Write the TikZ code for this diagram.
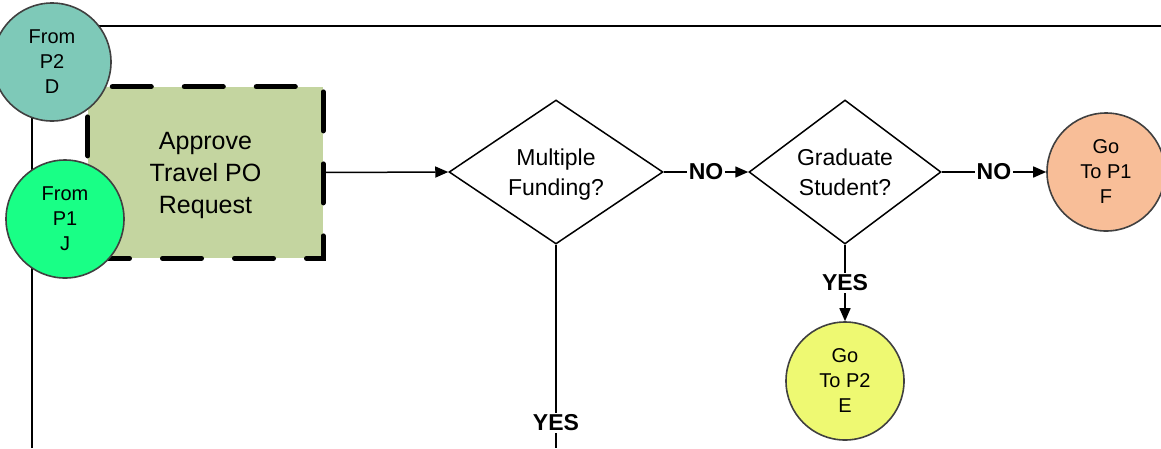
\documentclass[tikz,border=0pt]{standalone}
\usepackage{fontspec}
\setmainfont{Liberation Sans}
\usetikzlibrary{shapes.geometric,arrows.meta}
\definecolor{fromD}{HTML}{7EC9B8}
\definecolor{fromJ}{HTML}{19FF86}
\definecolor{approvefill}{HTML}{C4D5A0}
\definecolor{gotoF}{HTML}{F8BE98}
\definecolor{gotoE}{HTML}{EEF972}
\begin{document}
\begin{tikzpicture}[x=1pt,y=-1pt,
		offpage/.style={circle,draw=black!75,line width=1.6pt,minimum size=118pt,inner sep=0pt,
			align=center,font=\fontsize{20}{25}\selectfont},
		decision/.style={diamond,aspect=1.5,draw,line width=1.5pt,fill=white,minimum width=214pt,
			minimum height=144pt,inner sep=0pt,text depth=0pt,align=center,font=\fontsize{23}{30}\selectfont},
		conn/.style={line width=1.5pt,-{Triangle[length=13pt,width=11pt]}},
		answer/.style={fill=white,inner sep=1.5pt,font=\fontsize{23}{26}\bfseries\selectfont}]
		\useasboundingbox (0,0) rectangle (1161,448);

		% lane frame
		\draw [line width=1.5pt] (32,448) -- (32,26) -- (1161,26);

		\node [rectangle,fill=approvefill,minimum width=235pt,minimum height=171pt,text depth=0pt,
			align=center,font=\fontsize{25}{32}\selectfont]
			(approve) at (205.5,172.5) {Approve\\Travel PO\\Request};
		\draw [line width=5pt,line cap=round,dash pattern=on 39pt off 33pt,dash phase=47.5pt]
			(approve.north west) -- (approve.north east) -- (approve.south east)
			-- (approve.south west) -- cycle;

		\node [offpage,fill=fromD] (fromD) at (52,62) {From\\P2\\D};
		\node [offpage,fill=fromJ] (fromJ) at (65,219) {From\\P1\\J};

		\node [decision] (funding) at (556,172) {Multiple\\Funding?};
		\node [decision,minimum width=192pt] (grad) at (845,172) {Graduate\\Student?};

		\node [offpage,fill=gotoF] (gotoF) at (1106,172) {Go\\To P1\\F};
		\node [offpage,fill=gotoE] (gotoE) at (845,381) {Go\\To P2\\E};

		\coordinate (down) at (556,448);

		\draw [conn] (approve.east) -- (funding.west);
		\draw [conn] (funding.east) -- node [answer] {NO} (grad.west);
		\draw [conn] (grad.east) -- node [answer] {NO} (gotoF.west);
		\draw [conn] (grad.south) -- node [answer] {YES} (gotoE.north);
		\draw [line width=1.5pt] (funding.south) -- node [answer,pos=0.877] {YES} (down);
	\end{tikzpicture}
\end{document}
